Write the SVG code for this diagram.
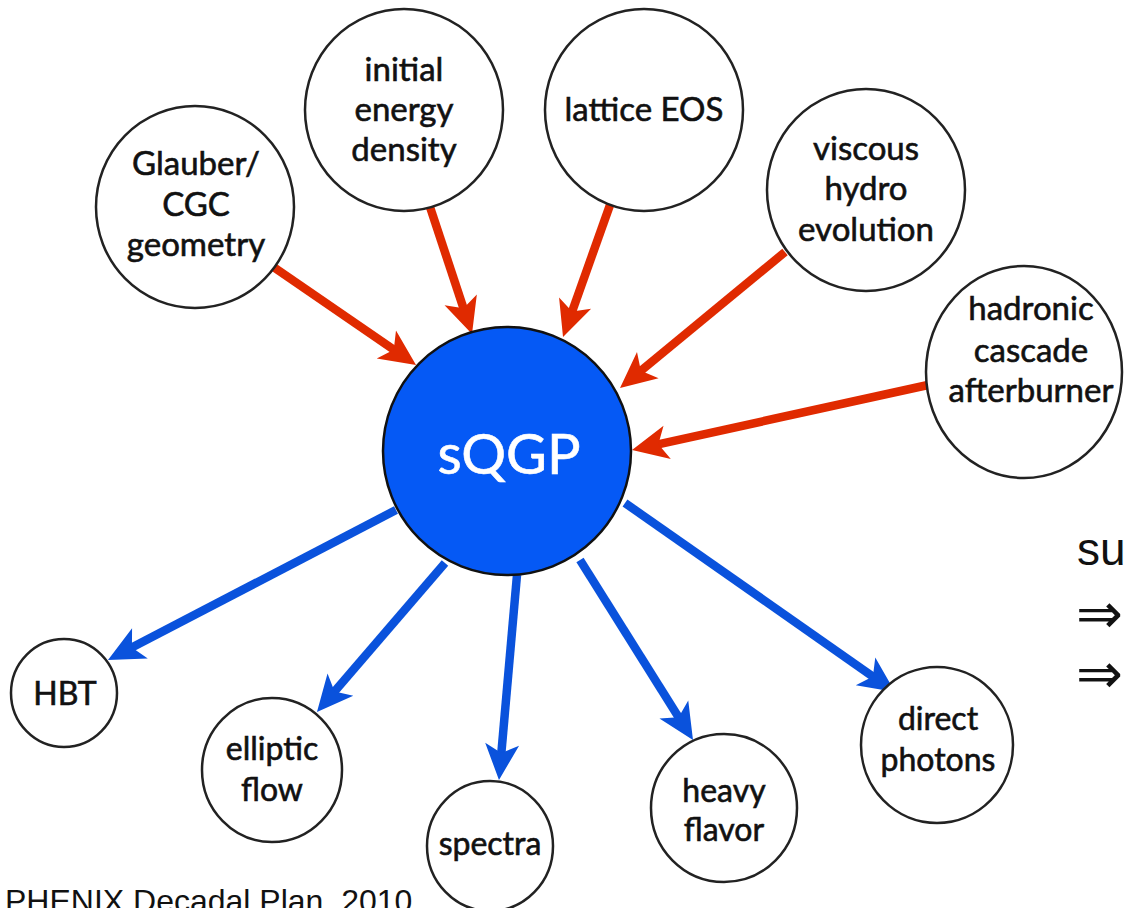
<svg xmlns="http://www.w3.org/2000/svg" width="1126" height="908" viewBox="0 0 1126 908">
<style>
.node{fill:#fff;stroke:#222;stroke-width:2.5}
.lbl{font-family:Lato,"Gill Sans","Noto Sans",sans-serif;font-size:33px;fill:#111;stroke:#111;stroke-width:0.6;text-anchor:middle}
.sm{font-size:32px}
.red{stroke:#e02a00;stroke-width:8.5;fill:none}
.blue{stroke:#0a52dc;stroke-width:8.5;fill:none}
.side{font-family:"Liberation Sans",Arial,sans-serif;fill:#111}
.arr{font-family:"DejaVu Sans",sans-serif;fill:#111}
</style>
<defs>
<marker id="ar" viewBox="-16 -19 40 38" refX="0" refY="0" markerWidth="40" markerHeight="38" orient="auto" markerUnits="userSpaceOnUse">
<path d="M22,0 L-14,-17 L-5,0 L-14,17 Z" fill="#e02a00"/>
</marker>
<marker id="ab" viewBox="-16 -19 40 38" refX="0" refY="0" markerWidth="40" markerHeight="38" orient="auto" markerUnits="userSpaceOnUse">
<path d="M22,0 L-14,-17 L-5,0 L-14,17 Z" fill="#0a52dc"/>
</marker>
</defs>
<g id="connectors">
<line class="red" x1="272" y1="266" x2="397.9" y2="352.5" marker-end="url(#ar)"/>
<line class="red" x1="430" y1="207" x2="465.1" y2="313.1" marker-end="url(#ar)"/>
<line class="red" x1="610" y1="205" x2="570.4" y2="316.3" marker-end="url(#ar)"/>
<line class="red" x1="785" y1="252" x2="637" y2="374" marker-end="url(#ar)"/>
<line class="red" x1="928" y1="385" x2="653.5" y2="445.3" marker-end="url(#ar)"/>
<line class="blue" x1="396" y1="510" x2="127.5" y2="649.8" marker-end="url(#ab)"/>
<line class="blue" x1="445" y1="563" x2="331.3" y2="695.3" marker-end="url(#ab)"/>
<line class="blue" x1="517" y1="575" x2="500.9" y2="758.1" marker-end="url(#ab)"/>
<line class="blue" x1="580" y1="560" x2="681.3" y2="721.4" marker-end="url(#ab)"/>
<line class="blue" x1="625" y1="503" x2="877" y2="679.4" marker-end="url(#ab)"/>
</g>
<g id="glauber">
<ellipse class="node" cx="195" cy="207" rx="99" ry="101"/>
<text class="lbl" x="196" y="175">Glauber/</text>
<text class="lbl" x="196" y="216">CGC</text>
<text class="lbl" x="196" y="256">geometry</text>
</g>
<g id="initial">
<ellipse class="node" cx="404" cy="110" rx="99" ry="101"/>
<text class="lbl" x="404" y="81">initial</text>
<text class="lbl" x="404" y="121">energy</text>
<text class="lbl" x="404" y="161">density</text>
</g>
<g id="lattice">
<ellipse class="node" cx="644" cy="110" rx="99" ry="101"/>
<text class="lbl" x="644" y="121">lattice EOS</text>
</g>
<g id="viscous">
<ellipse class="node" cx="866" cy="190" rx="99" ry="101"/>
<text class="lbl" x="866" y="160">viscous</text>
<text class="lbl" x="866" y="200">hydro</text>
<text class="lbl" x="866" y="241">evolution</text>
</g>
<g id="hadronic">
<ellipse class="node" cx="1024" cy="372" rx="98" ry="106"/>
<text class="lbl" x="1031" y="320">hadronic</text>
<text class="lbl" x="1031" y="362">cascade</text>
<text class="lbl" x="1031" y="402">afterburner</text>
</g>
<g id="sqgp">
<circle cx="507" cy="451" r="124" fill="#0559f5" stroke="#111" stroke-width="2.5"/>
<text class="lbl" x="509" y="474" style="font-size:56px;fill:#fff;stroke:#fff">sQGP</text>
</g>
<g id="hbt">
<ellipse class="node" cx="64" cy="693" rx="53" ry="54"/>
<text class="lbl sm" x="65" y="705">HBT</text>
</g>
<g id="elliptic">
<ellipse class="node" cx="272" cy="770" rx="70" ry="72"/>
<text class="lbl sm" x="272" y="760">elliptic</text>
<text class="lbl sm" x="272" y="801">flow</text>
</g>
<g id="spectra">
<ellipse class="node" cx="490" cy="846" rx="63" ry="65"/>
<text class="lbl sm" x="490" y="855">spectra</text>
</g>
<g id="heavy">
<ellipse class="node" cx="724" cy="808" rx="73" ry="74"/>
<text class="lbl sm" x="724" y="802">heavy</text>
<text class="lbl sm" x="724" y="841">flavor</text>
</g>
<g id="photons">
<ellipse class="node" cx="937" cy="745" rx="76" ry="78"/>
<text class="lbl sm" x="938" y="730">direct</text>
<text class="lbl sm" x="938" y="771">photons</text>
</g>
<g id="side-text">
<text class="side" x="1077" y="565" style="font-size:46px">su</text>
<text class="arr" x="1076" y="633" style="font-size:56px">⇒</text>
<text class="arr" x="1076" y="693" style="font-size:56px">⇒</text>
<text class="side" x="5" y="912" style="font-size:32px">PHENIX Decadal Plan, 2010</text>
</g>
</svg>
